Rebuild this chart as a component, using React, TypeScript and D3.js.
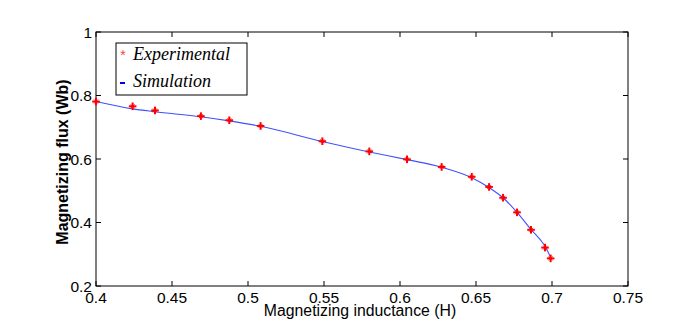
import React from "react";
import * as d3 from "d3";

const xTicks = [0.4, 0.45, 0.5, 0.55, 0.6, 0.65, 0.7, 0.75];
const yTicks = [0.2, 0.4, 0.6, 0.8, 1];
const xTickLabels = ["0.4", "0.45", "0.5", "0.55", "0.6", "0.65", "0.7", "0.75"];
const yTickLabels = ["0.2", "0.4", "0.6", "0.8", "1"];

const expX = [0.4, 0.4241, 0.4388, 0.469, 0.4877, 0.5083, 0.5489, 0.5798, 0.6046, 0.6274, 0.6472, 0.6586, 0.6678, 0.677, 0.6862, 0.6954, 0.6991];
const expY = [0.781, 0.766, 0.753, 0.735, 0.722, 0.704, 0.656, 0.624, 0.599, 0.575, 0.544, 0.512, 0.478, 0.432, 0.377, 0.321, 0.287];

const simX = [0.4, 0.4241, 0.4388, 0.469, 0.4877, 0.5083, 0.5489, 0.5798, 0.6046, 0.6274, 0.6472, 0.6586, 0.6678, 0.677, 0.6862, 0.6954, 0.6991];
const simY = [0.781, 0.758, 0.749, 0.733, 0.72, 0.703, 0.655, 0.622, 0.598, 0.574, 0.541, 0.51, 0.478, 0.432, 0.378, 0.325, 0.29];

export default function App() {
  const left = 96, right = 628, top = 32, bottom = 286;
  const x = d3.scaleLinear().domain([0.4, 0.75]).range([left, right]);
  const y = d3.scaleLinear().domain([0.2, 1]).range([bottom, top]);
  const line = d3.line<number>().x((_, i) => x(simX[i])).y((d) => y(d)).curve(d3.curveMonotoneX);
  const font = "'Liberation Sans', Arial, sans-serif";
  const serif = "'Liberation Serif', 'Times New Roman', serif";
  const tl = 5;
  return (
    <svg width={688} height={329} style={{ position: "absolute", left: 0, top: 0, background: "#fff" }}>
      <rect x={0} y={0} width={688} height={329} fill="#fff" />
      {xTicks.map((t, i) => (
        <g key={"xt" + i}>
          <line x1={x(t)} x2={x(t)} y1={bottom} y2={bottom - tl} stroke="#000" />
          <line x1={x(t)} x2={x(t)} y1={top} y2={top + tl} stroke="#000" />
          <text x={x(t)} y={302.5} textAnchor="middle" fontFamily={font} fontSize={15.5} fill="#000">
            {xTickLabels[i]}
          </text>
        </g>
      ))}
      {yTicks.map((t, i) => (
        <g key={"yt" + i}>
          <line x1={left} x2={left + tl} y1={y(t)} y2={y(t)} stroke="#000" />
          <line x1={right} x2={right - tl} y1={y(t)} y2={y(t)} stroke="#000" />
          <text x={92} y={y(t) + 5.5} textAnchor="end" fontFamily={font} fontSize={15.5} fill="#000">
            {yTickLabels[i]}
          </text>
        </g>
      ))}
      <rect x={left} y={top} width={right - left} height={bottom - top} fill="none" stroke="#000" strokeWidth={1} />
      <path d={line(simY) || ""} fill="none" stroke="#3f4fff" strokeWidth={1.1} />
      {expX.map((v, i) => {
        const cx = x(v), cy = y(expY[i]);
        return (
          <g key={"m" + i} stroke="#ff0000">
            <line x1={cx - 3.8} x2={cx + 3.8} y1={cy} y2={cy} strokeWidth={2} />
            <line x1={cx} x2={cx} y1={cy - 3.8} y2={cy + 3.8} strokeWidth={2} />
            <line x1={cx - 2} x2={cx + 2} y1={cy - 2} y2={cy + 2} strokeWidth={0.8} />
            <line x1={cx - 2} x2={cx + 2} y1={cy + 2} y2={cy - 2} strokeWidth={0.8} />
          </g>
        );
      })}
      <rect x={116} y={43} width={131} height={52} fill="#fff" stroke="#000" strokeWidth={1} />
      <text x={123} y={60} textAnchor="middle" fontFamily={font} fontSize={14} fill="#ff4040">*</text>
      <text x={133} y={60} fontFamily={serif} fontStyle="italic" fontSize={18} fill="#000">
        Experimental
      </text>
      <line x1={120} x2={125} y1={83} y2={83} stroke="#0000ee" strokeWidth={2} />
      <text x={133} y={87} fontFamily={serif} fontStyle="italic" fontSize={18} fill="#000">
        Simulation
      </text>
      <text x={360} y={316} textAnchor="middle" fontFamily={font} fontSize={15.8} fill="#000">
        Magnetizing inductance (H)
      </text>
      <text transform="translate(68,162) rotate(-90)" textAnchor="middle" fontFamily={font} fontSize={16} fontWeight="bold" fill="#000">
        Magnetizing flux (Wb)
      </text>
    </svg>
  );
}
